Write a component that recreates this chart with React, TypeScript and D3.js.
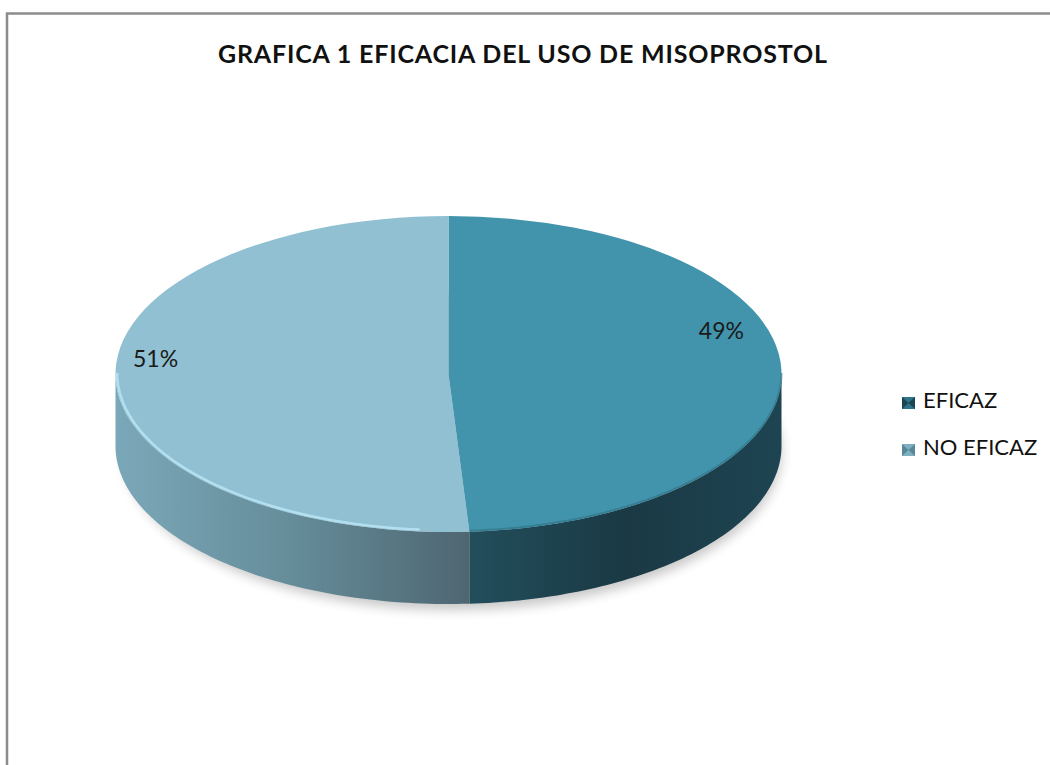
import * as d3 from 'd3'
import { useEffect, useRef } from 'react'

// chart values
const categories = ['EFICAZ', 'NO EFICAZ']
const values = [49, 51]
const pctLabels = ['49%', '51%']
const title = 'GRAFICA 1 EFICACIA DEL USO DE MISOPROSTOL'

const topColors = ['#4194ac', '#90c0d2']
const sideStops = [
  ['#224e5c', '#1a3944', '#1e4452'],
  ['#7ba8b9', '#658c99', '#4e6672'],
]

export default function App() {
  const svgRef = useRef<SVGSVGElement>(null)

  useEffect(() => {
    const w = 1050
    const h = 765
    const cx = 448.5
    const cy = 374
    const rx = 333
    const ry = 158
    const depth = 72

    const svg = d3.select(svgRef.current)
      .attr('width', w)
      .attr('height', h)
    svg.selectAll('*').remove()

    const defs = svg.append('defs')
    defs.append('filter')
      .attr('id', 'blur')
      .attr('x', '-20%').attr('y', '-20%').attr('width', '140%').attr('height', '140%')
      .append('feGaussianBlur')
      .attr('stdDeviation', 6)

    // frame
    svg.append('rect')
      .attr('x', 7).attr('y', 13.5)
      .attr('width', w).attr('height', h)
      .attr('fill', '#fff')
      .attr('stroke', '#8c8c8c')
      .attr('stroke-width', 2.5)

    svg.append('text')
      .attr('x', 218)
      .attr('y', 57)
      .attr('dominant-baseline', 'middle')
      .attr('textLength', 609)
      .attr('lengthAdjust', 'spacing')
      .style('font-family', 'Lato, "Open Sans", sans-serif')
      .style('font-weight', 'bold')
      .style('font-size', '25px')
      .attr('fill', '#111')
      .text(title)

    const pie = d3.pie<number>().sort(null).startAngle(0).endAngle(2 * Math.PI)
    const arcs = pie(values)

    const px = (a: number, k = 1) => cx + k * rx * Math.sin(a)
    const py = (a: number, k = 1) => cy - k * ry * Math.cos(a)

    // shadow under the pie
    svg.append('ellipse')
      .attr('cx', cx + 4).attr('cy', cy + depth + 6)
      .attr('rx', rx - 4).attr('ry', ry)
      .attr('fill', '#000')
      .attr('opacity', 0.22)
      .attr('filter', 'url(#blur)')

    // side walls (front half only: angles between pi/2 and 3pi/2)
    arcs.forEach((d, i) => {
      const a0 = Math.max(d.startAngle, Math.PI / 2)
      const a1 = Math.min(d.endAngle, 3 * Math.PI / 2)
      if (a1 <= a0) return
      const steps = 80
      const angs = d3.range(steps + 1).map(s => a0 + (a1 - a0) * s / steps)
      const p = d3.path()
      angs.forEach((a, j) => j === 0 ? p.moveTo(px(a), py(a)) : p.lineTo(px(a), py(a)))
      angs.slice().reverse().forEach(a => p.lineTo(px(a), py(a) + depth))
      p.closePath()

      const xs = angs.map(a => px(a))
      const gid = `side${i}`
      const g = defs.append('linearGradient')
        .attr('id', gid)
        .attr('gradientUnits', 'userSpaceOnUse')
        .attr('x1', d3.min(xs)).attr('x2', d3.max(xs))
        .attr('y1', 0).attr('y2', 0)
      const stops = sideStops[i]
      stops.forEach((c, k) => g.append('stop')
        .attr('offset', k / (stops.length - 1))
        .attr('stop-color', c))

      svg.append('path')
        .attr('d', p.toString())
        .attr('fill', `url(#${gid})`)
    })

    // top face
    const arc = d3.arc<d3.PieArcDatum<number>>().innerRadius(0).outerRadius(rx)
    const top = svg.append('g')
      .attr('transform', `translate(${cx},${cy}) scale(1,${ry / rx})`)
    top.selectAll('path.slice')
      .data(arcs)
      .join('path')
      .attr('class', 'slice')
      .attr('d', arc)
      .attr('fill', (d, i) => topColors[i])

    // bevel highlight along the front rim of the light slice
    const hl = arcs[1]
    const hA0 = Math.max(hl.startAngle, Math.PI / 2) + 0.15
    const hA1 = 3 * Math.PI / 2
    const hp = d3.path()
    d3.range(61).map(s => hA0 + (hA1 - hA0) * s / 60)
      .forEach((a, j) => j === 0 ? hp.moveTo(px(a, 0.995), py(a, 0.995) - 1) : hp.lineTo(px(a, 0.995), py(a, 0.995) - 1))
    svg.append('path')
      .attr('d', hp.toString())
      .attr('fill', 'none')
      .attr('stroke', '#b6e3f3')
      .attr('stroke-width', 2.5)
      .attr('opacity', 0.9)

    const dk = arcs[0]
    const dp = d3.path()
    d3.range(61).map(s => Math.PI / 2 + (dk.endAngle - Math.PI / 2) * s / 60)
      .forEach((a, j) => j === 0 ? dp.moveTo(px(a), py(a) - 1) : dp.lineTo(px(a), py(a) - 1))
    svg.append('path')
      .attr('d', dp.toString())
      .attr('fill', 'none')
      .attr('stroke', '#2f6f82')
      .attr('stroke-width', 2)
      .attr('opacity', 0.6)

    // percentage labels
    svg.selectAll('text.pct')
      .data(arcs)
      .join('text')
      .attr('class', 'pct')
      .attr('x', d => {
        const m = (d.startAngle + d.endAngle) / 2
        return px(m, 0.85) - 10
      })
      .attr('y', d => {
        const m = (d.startAngle + d.endAngle) / 2
        const dx = px(m, 0.85) - cx
        return py(m, 0.85) - 27 - 0.035 * dx
      })
      .attr('text-anchor', 'middle')
      .attr('dominant-baseline', 'middle')
      .style('font-family', 'Lato, "Open Sans", sans-serif')
      .style('font-size', '23px')
      .attr('fill', '#1a1a1a')
      .text((d, i) => pctLabels[i])

    // legend
    const legend = svg.append('g').attr('transform', 'translate(902,402)')
    categories.forEach((c, i) => {
      const row = legend.append('g').attr('transform', `translate(0,${i * 47})`)
      row.append('rect')
        .attr('x', 0).attr('y', -5)
        .attr('width', 13).attr('height', 12)
        .attr('fill', i === 0 ? '#2e7388' : '#7fb0c2')
      row.append('path')
        .attr('d', 'M0,-5 L6.5,1 L0,7 Z M13,-5 L6.5,1 L13,7 Z')
        .attr('fill', i === 0 ? '#1c4553' : '#5a8797')
      row.append('text')
        .attr('x', 21)
        .attr('y', 0)
        .attr('dominant-baseline', 'middle')
        .style('font-family', 'Lato, "Open Sans", sans-serif')
        .style('font-size', '22px')
        .attr('fill', '#111')
        .text(c)
    })
  }, [])

  return (
    <svg ref={svgRef} style={{ position: 'absolute', left: 0, top: 0 }} />
  )
}
